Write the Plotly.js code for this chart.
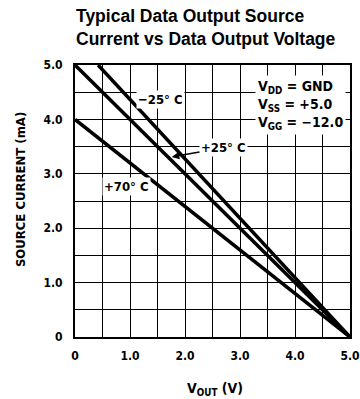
<!DOCTYPE html>
<html><head><meta charset="utf-8">
<script src="https://cdn.plot.ly/plotly-3.0.1.min.js"></script>
<style>html,body{margin:0;padding:0;background:#fff}#chart{width:360px;height:399px}</style>
</head><body><div id="chart"></div>
<script>
// Data
const vOutM25 = [0.42, 5.0];
const currM25 = [5.0, 0.0];
const vOutP25 = [0.0, 5.0];
const currP25 = [5.0, 0.0];
const vOutP70 = [0.0, 5.0];
const currP70 = [4.0, 0.0];
const tickVals = [0, 1, 2, 3, 4, 5];
const tickText = ['0', '1.0', '2.0', '3.0', '4.0', '5.0'];
const curveLabels = ['−25° C', '+25° C', '+70° C'];
const condText = 'V<sub>DD</sub> = GND<br>V<sub>SS</sub> = +5.0<br>V<sub>GG</sub> = −12.0';
const titleText = 'Typical Data Output Source<br>Current vs Data Output Voltage';

const COND = '"DejaVu Sans Condensed", "DejaVu Sans", sans-serif';
function cf(size) { return {family: COND, size: size, color: '#000', weight: 'bold', stretch: 'condensed'}; }
const lineStyle = {color: '#000', width: 3.5};

const traces = [
  {x: vOutM25, y: currM25, mode: 'lines', line: lineStyle, hoverinfo: 'skip'},
  {x: vOutP25, y: currP25, mode: 'lines', line: lineStyle, hoverinfo: 'skip'},
  {x: vOutP70, y: currP70, mode: 'lines', line: lineStyle, hoverinfo: 'skip'}
];

const axisCommon = {
  range: [0, 5], tickmode: 'array', tickvals: tickVals, ticktext: tickText,
  showgrid: true, gridcolor: '#000', gridwidth: 1, zeroline: false,
  minor: {dtick: 0.5, tick0: 0, showgrid: true, gridcolor: '#000', gridwidth: 1, ticks: ''},
  showline: true, linecolor: '#000', linewidth: 2, mirror: true,
  ticks: '', fixedrange: true, ticklabeloverflow: 'allow',
  tickfont: cf(12)
};

const layout = {
  width: 360, height: 399,
  margin: {l: 75, r: 10, t: 65, b: 62},
  paper_bgcolor: '#fff', plot_bgcolor: '#fff',
  showlegend: false,
  xaxis: Object.assign({}, axisCommon, {ticklabelstandoff: 7}),
  yaxis: Object.assign({}, axisCommon, {ticklabelstandoff: 8}),
  annotations: [
    {x: 0, y: 1.22, xref: 'paper', yref: 'paper', xanchor: 'left', yanchor: 'top', align: 'left',
     text: titleText, showarrow: false, borderpad: 0,
     font: {family: '"Liberation Sans", Arial, sans-serif', size: 17.5, color: '#000', weight: 'bold'}},
    {x: 1.56, y: 4.36, xref: 'x', yref: 'y', text: curveLabels[0], showarrow: false,
     bgcolor: '#fff', borderpad: 1, font: cf(13)},
    {x: 1.76, y: 3.31, xref: 'x', yref: 'y', ax: 2.7, ay: 3.48, axref: 'x', ayref: 'y',
     text: curveLabels[1], showarrow: true, arrowhead: 2, arrowsize: 1, arrowwidth: 1.5,
     arrowcolor: '#000', bgcolor: '#fff', borderpad: 1, standoff: 0, font: cf(13)},
    {x: 0.93, y: 2.76, xref: 'x', yref: 'y', text: curveLabels[2], showarrow: false,
     bgcolor: '#fff', borderpad: 1, font: cf(13)},
    {x: 3.27, y: 4.82, xref: 'x', yref: 'y', xanchor: 'left', yanchor: 'top', align: 'left',
     text: condText, showarrow: false, bgcolor: '#fff', borderpad: 2, font: cf(14)},
    {x: -0.2, y: 0.54, xref: 'paper', yref: 'paper', xanchor: 'center', yanchor: 'middle', textangle: -90,
     text: 'SOURCE CURRENT (mA)', showarrow: false, font: cf(13)},
    {x: 0.51, y: -0.19, xref: 'paper', yref: 'paper', xanchor: 'center', yanchor: 'middle',
     text: 'V<sub>OUT</sub> (V)', showarrow: false, font: cf(14)}
  ]
};

Plotly.newPlot('chart', traces, layout, {staticPlot: true, displayModeBar: false});
</script></body></html>
